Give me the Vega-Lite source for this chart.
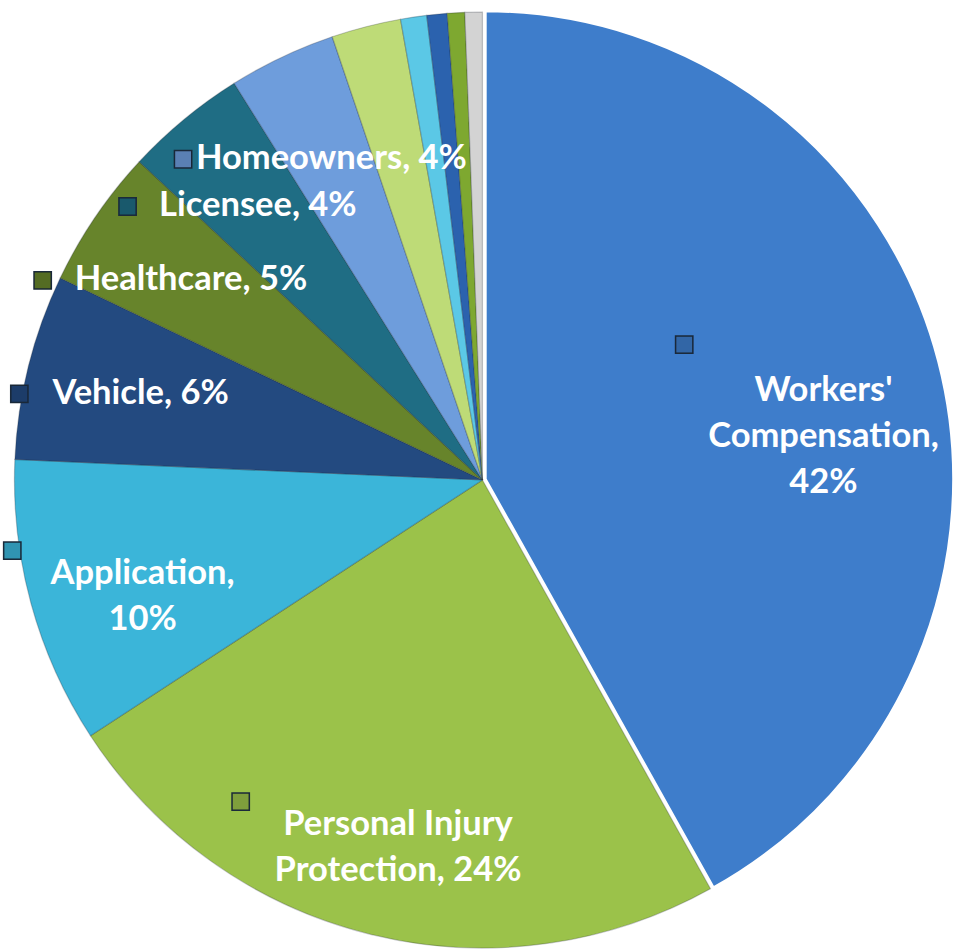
{
  "$schema": "https://vega.github.io/schema/vega-lite/v6.json",
  "width": 955,
  "height": 951,
  "padding": 0,
  "autosize": {"type": "fit", "contains": "padding"},
  "background": "#ffffff",
  "config": {"view": {"stroke": null}},
  "data": {
    "values": [
      {"category": "Workers' Compensation", "value": 41.9, "label": "Workers'|Compensation,|42%"},
      {"category": "Personal Injury Protection", "value": 23.9, "label": "Personal Injury|Protection, 24%"},
      {"category": "Application", "value": 9.9, "label": "Application,|10%"},
      {"category": "Vehicle", "value": 6.4, "label": "Vehicle, 6%"},
      {"category": "Healthcare", "value": 4.8, "label": "Healthcare, 5%"},
      {"category": "Licensee", "value": 4.2, "label": "Licensee, 4%"},
      {"category": "Homeowners", "value": 3.7, "label": "Homeowners, 4%"},
      {"category": "Category 8", "value": 2.4, "label": null},
      {"category": "Category 9", "value": 0.9, "label": null},
      {"category": "Category 10", "value": 0.7, "label": null},
      {"category": "Category 11", "value": 0.6, "label": null},
      {"category": "Assistance", "value": 0.6, "label": null}
    ]
  },
  "transform": [
    {"window": [{"op": "row_number", "as": "idx"}]},
    {"stack": "value", "groupby": [], "sort": [{"field": "idx"}], "as": ["v0", "v1"]},
    {"joinaggregate": [{"op": "sum", "field": "value", "as": "total"}]},
    {"calculate": "datum.v0 / datum.total * 2 * PI", "as": "a0"},
    {"calculate": "datum.v1 / datum.total * 2 * PI", "as": "a1"},
    {"calculate": "(datum.a0 + datum.a1) / 2", "as": "mid"},
    {"calculate": "355 * sin(datum.mid)", "as": "lx"},
    {"calculate": "355 * cos(datum.mid)", "as": "ly"},
    {"calculate": "split(datum.label || '', '|')", "as": "lines"},
    {"calculate": "length(datum.lines)", "as": "nl"},
    {"calculate": "max(length(datum.lines[0]), datum.nl > 1 ? length(datum.lines[1]) : 0, datum.nl > 2 ? length(datum.lines[2]) : 0)", "as": "maxlen"},
    {"calculate": "datum.lx - datum.maxlen * 9.1 - 22", "as": "kx"},
    {"calculate": "datum.ly + (datum.nl - 1) * 23", "as": "ky"}
  ],
  "layer": [
    {
      "transform": [{"filter": "datum.category != \"Workers' Compensation\""}],
      "mark": {"type": "arc", "radius": 468, "stroke": "#1a2430", "strokeOpacity": 0.25, "strokeWidth": 1.2},
      "encoding": {
        "theta": {"field": "a0", "type": "quantitative", "scale": null, "stack": null},
        "theta2": {"field": "a1"},
        "x": {"datum": 0, "type": "quantitative", "scale": {"domain": [-486, 469], "nice": false, "zero": false}, "axis": null},
        "y": {"datum": 0, "type": "quantitative", "scale": {"domain": [-471, 480], "nice": false, "zero": false}, "axis": null},
        "color": {
          "field": "category",
          "type": "nominal",
          "legend": null,
          "scale": {
            "domain": ["Workers' Compensation", "Personal Injury Protection", "Application", "Vehicle", "Healthcare", "Licensee", "Homeowners", "Category 8", "Category 9", "Category 10", "Category 11", "Assistance"],
            "range": ["#3E7DCB", "#9BC24A", "#3BB5D9", "#234A80", "#67842B", "#1F6D84", "#6E9DDC", "#BEDB77", "#5BC8E6", "#2B62AE", "#7EA830", "#D3D3D3"]
          }
        }
      }
    },
    {
      "transform": [{"filter": "datum.category == \"Workers' Compensation\""}],
      "mark": {"type": "arc", "radius": 468, "stroke": "#ffffff", "strokeWidth": 2.5, "xOffset": 3, "yOffset": -1},
      "encoding": {
        "theta": {"field": "a0", "type": "quantitative", "scale": null, "stack": null},
        "theta2": {"field": "a1"},
        "x": {"datum": 0, "type": "quantitative"},
        "y": {"datum": 0, "type": "quantitative"},
        "color": {"field": "category", "type": "nominal", "legend": null}
      }
    },
    {
      "transform": [{"filter": "datum.label != null"}],
      "mark": {"type": "square", "size": 300, "filled": true, "opacity": 1, "stroke": "#1b2a3b", "strokeWidth": 1.5},
      "encoding": {
        "x": {"field": "kx", "type": "quantitative"},
        "y": {"field": "ky", "type": "quantitative"},
        "color": {"field": "category", "type": "nominal", "legend": null}
      }
    },
    {
      "transform": [{"filter": "datum.label != null"}],
      "mark": {"type": "square", "size": 280, "filled": true, "color": "#000000", "opacity": 0.18},
      "encoding": {
        "x": {"field": "kx", "type": "quantitative"},
        "y": {"field": "ky", "type": "quantitative"}
      }
    },
    {
      "transform": [{"filter": "datum.label != null"}],
      "mark": {"type": "text", "font": "Lato", "fontWeight": "bold", "fontSize": 34.5, "color": "#ffffff", "align": "center", "baseline": "middle", "lineBreak": "|", "lineHeight": 46},
      "encoding": {
        "x": {"field": "lx", "type": "quantitative"},
        "y": {"field": "ly", "type": "quantitative"},
        "text": {"field": "label"}
      }
    }
  ]
}
